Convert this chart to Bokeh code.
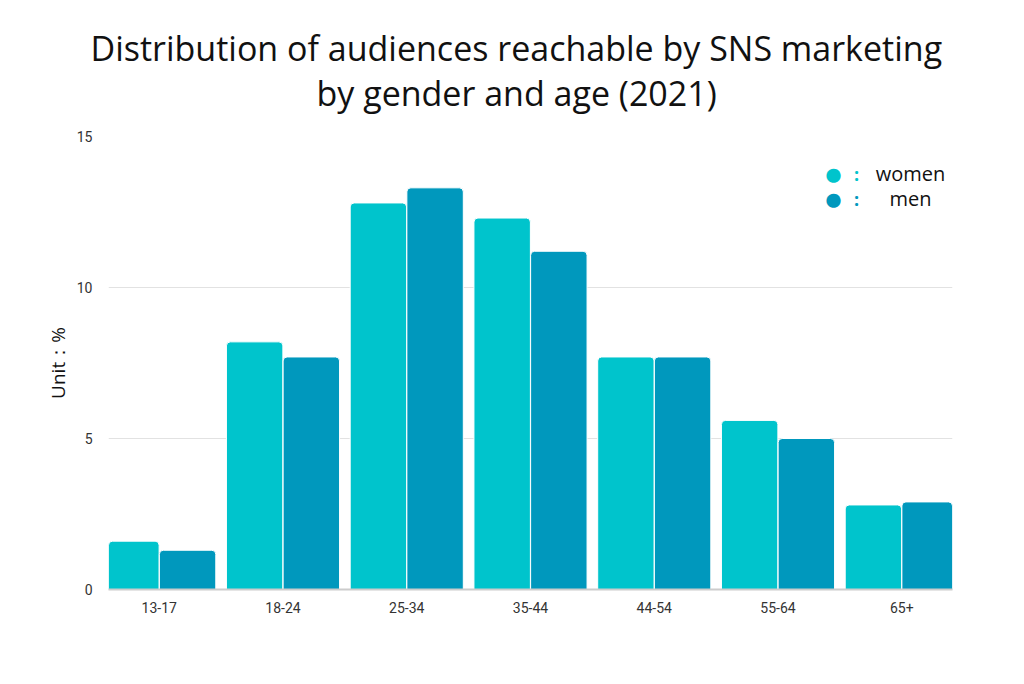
from bokeh.plotting import figure
from bokeh.models import FactorRange, Range1d, Title, Label, ColumnDataSource, FixedTicker
from bokeh.transform import dodge
from bokeh.embed import file_html
from bokeh.resources import INLINE

ages = ["13-17", "18-24", "25-34", "35-44", "44-54", "55-64", "65+"]
women = [1.6, 8.2, 12.8, 12.3, 7.7, 5.6, 2.8]
men = [1.3, 7.7, 13.3, 11.2, 7.7, 5.0, 2.9]
series = ["women", "men"]
colors = ["#00C4CC", "#0098BD"]
yticks = [0, 5, 10, 15]
title_lines = ["Distribution of audiences reachable by SNS marketing",
               "by gender and age (2021)"]
y_label = "Unit：%"

src = ColumnDataSource(dict(ages=ages, women=women, men=men))

p = figure(width=1008, height=668,
           x_range=FactorRange(factors=ages, range_padding=-0.09, range_padding_units="absolute"),
           y_range=Range1d(0, 15),
           output_backend="svg", toolbar_location=None,
           min_border_left=108, min_border_right=56,
           min_border_top=136, min_border_bottom=79)

for name, col, off in zip(series, colors, [-0.229, 0.229]):
    p.vbar(x=dodge("ages", off, range=p.x_range), top=name, width=0.456, source=src,
           fill_color=col, line_color="white", line_width=1, border_radius=(4, 4, 0, 0))

p.outline_line_color = None
p.xgrid.grid_line_color = None
p.ygrid.grid_line_color = "#e2e2e2"
p.ygrid.grid_line_width = 1

p.yaxis.ticker = FixedTicker(ticks=yticks)
p.yaxis.axis_line_color = None
p.yaxis.major_tick_line_color = None
p.yaxis.minor_tick_line_color = None
p.yaxis.major_label_text_font = "Roboto"
p.yaxis.major_label_text_font_size = "14px"
p.yaxis.major_label_text_color = "#333333"
p.yaxis.major_label_standoff = 10
p.yaxis.axis_label = y_label
p.yaxis.axis_label_text_font = "Open Sans"
p.yaxis.axis_label_text_font_size = "19px"
p.yaxis.axis_label_text_font_style = "normal"
p.yaxis.axis_label_text_color = "#111111"
p.yaxis.axis_label_standoff = 3

p.xaxis.axis_line_color = "#cccccc"
p.xaxis.axis_line_width = 2
p.xaxis.major_tick_line_color = None
p.xaxis.minor_tick_line_color = None
p.xaxis.major_label_text_font = "Roboto"
p.xaxis.major_label_text_font_size = "14px"
p.xaxis.major_label_text_color = "#333333"
p.xaxis.major_label_standoff = 6

# second line nearest the frame, first line above it
p.add_layout(Title(text=title_lines[1], align="left", offset=208, standoff=41,
                   text_font="Open Sans", text_font_size="34px", text_font_style="normal",
                   text_color="#111111"), "above")
p.add_layout(Title(text=title_lines[0], align="left", offset=-18, standoff=-47,
                   text_font="Open Sans", text_font_size="34px", text_font_style="normal",
                   text_color="#111111"), "above")

# legend built from labels (screen units relative to frame)
for i, (name, col) in enumerate(zip(series, colors)):
    yy = 416 - 25 * i
    p.add_layout(Label(x=725, y=yy, x_units="screen", y_units="screen", text="●",
                       text_color=col, text_font_size="33px", text_align="center",
                       text_baseline="middle"))
    p.add_layout(Label(x=748, y=yy, x_units="screen", y_units="screen", text=":",
                       text_color=col, text_font_size="18px", text_font="Open Sans",
                       text_font_style="bold", text_align="center", text_baseline="middle"))
    p.add_layout(Label(x=802, y=yy, x_units="screen", y_units="screen", text=name,
                       text_color="#111111", text_font_size="20px", text_font="Open Sans",
                       text_align="center", text_baseline="middle"))

open("out.html", "w").write(file_html(p, INLINE))
